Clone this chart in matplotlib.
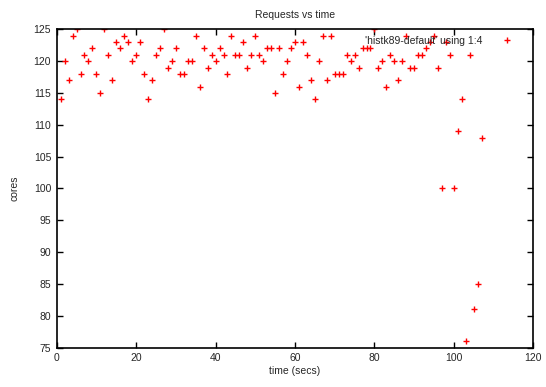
import matplotlib
matplotlib.use("Agg")
import matplotlib.pyplot as plt

plt.rcParams['font.family'] = ['Liberation Sans', 'DejaVu Sans']

time_secs = list(range(1, 108))
cores = [
    114, 120, 117, 124, 125, 118, 121, 120, 122, 118,   # 1-10
    115, 125, 121, 117, 123, 122, 124, 123, 120, 121,   # 11-20
    123, 118, 114, 117, 121, 122, 125, 119, 120, 122,   # 21-30
    118, 118, 120, 120, 124, 116, 122, 119, 121, 120,   # 31-40
    122, 121, 118, 124, 121, 121, 123, 119, 121, 124,   # 41-50
    121, 120, 122, 122, 115, 122, 118, 120, 122, 123,   # 51-60
    116, 123, 121, 117, 114, 120, 124, 117, 124, 118,   # 61-70
    118, 118, 121, 120, 121, 119, 122, 122, 122, 125,   # 71-80
    119, 120, 116, 121, 120, 117, 120, 124, 119, 119,   # 81-90
    121, 121, 122, 123, 124, 119, 100, 123, 121, 100,   # 91-100
    109, 114, 76, 121, 81, 85, 108,                     # 101-107
]
series_label = "'histk89-default' using 1:4"
x_ticks = [0, 20, 40, 60, 80, 100, 120]
y_ticks = [75, 80, 85, 90, 95, 100, 105, 110, 115, 120, 125]

text_color = '#262626'

fig = plt.figure(figsize=(5.46, 3.87), dpi=100)
ax = fig.add_axes([0.1038, 0.1016, 0.9768 - 0.1038, 0.9243 - 0.1016])

ax.plot(time_secs, cores, linestyle='none', marker='+', color='#ff0000',
        markersize=5, markeredgewidth=1.0, label=series_label)

ax.set_xlim(0, 120)
ax.set_ylim(75, 125)
ax.set_xticks(x_ticks)
ax.set_yticks(y_ticks)
ax.tick_params(direction='in', top=True, right=True, length=4, width=1,
               labelsize=7.5, color='#000000', labelcolor=text_color, pad=4)
for s in ax.spines.values():
    s.set_linewidth(1.2)

ax.set_title("Requests vs time", fontsize=7.5, pad=8, color=text_color)
ax.set_xlabel("time (secs)", fontsize=7.5, labelpad=2, color=text_color)
ax.set_ylabel("cores", fontsize=7.5, labelpad=10, color=text_color)

leg = ax.legend(loc='upper right', markerfirst=False, frameon=False,
                fontsize=7.5, handlelength=1.5, handletextpad=1.6,
                borderaxespad=0.3, bbox_to_anchor=(0.977, 1.003),
                labelcolor=text_color)

fig.savefig("out.png", dpi=100)
